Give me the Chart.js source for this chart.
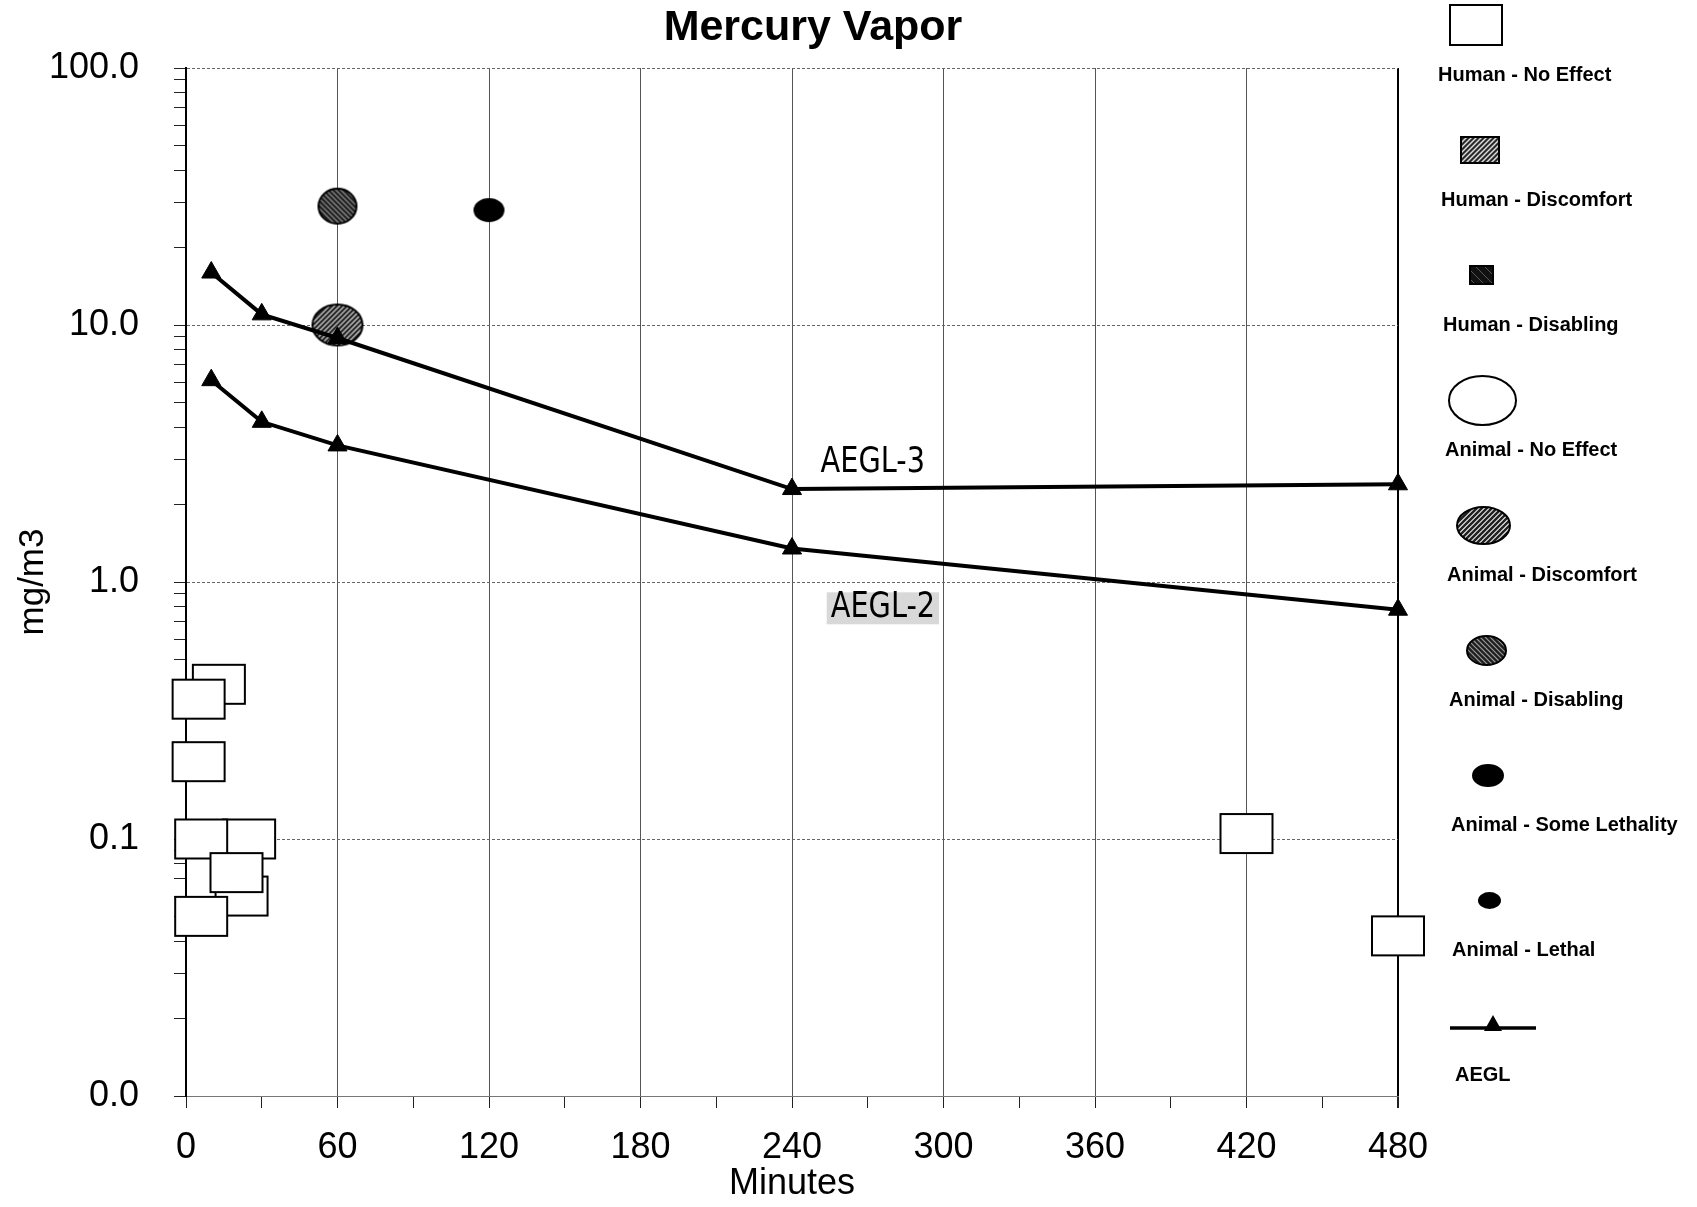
<!DOCTYPE html>
<html>
<head>
<meta charset="utf-8">
<title>Mercury Vapor</title>
<script src="https://cdn.jsdelivr.net/npm/chart.js@4.4.1/dist/chart.umd.min.js"></script>
<style>
  body { margin: 0; background: #fff; }
  #page { position: relative; width: 1697px; height: 1207px; font-family: "Liberation Sans", Arial, sans-serif; color: #000; }
  #box { position: absolute; left: 0; top: 0; width: 1697px; height: 1207px; }
  #title { position: absolute; left: 513px; top: 0; width: 600px; text-align: center; font-weight: bold; font-size: 43px; line-height: 50px; }
  .legSym { position: absolute; }
  .legText { position: absolute; font-weight: bold; font-size: 20px; line-height: 24px; white-space: nowrap; }
</style>
</head>
<body>
<div id="page">
  <div id="box"><canvas id="chart"></canvas></div>
  <div id="title">Mercury Vapor</div>
  <div id="legend"></div>
</div>
<script>
  // AEGL values (mg/m3) at the standard exposure times
  var aeglMinutes = [10, 30, 60, 240, 480];
  var aegl3 = [16, 11, 8.9, 2.3, 2.4];
  var aegl2 = [6.1, 4.2, 3.4, 1.35, 0.78];

  // Human - No Effect points (draw order kept as in the scan)
  var humanNoEffectMin = [13, 5, 5, 22, 25, 6, 20, 6, 420, 480];
  var humanNoEffectVal = [0.4, 0.35, 0.2, 0.06, 0.1, 0.1, 0.074, 0.05, 0.105, 0.042];

  // Animal points
  var animalDiscomfortMin = [60];
  var animalDiscomfortVal = [10];
  var animalDisablingMin = [60];
  var animalDisablingVal = [29];
  var animalSomeLethalMin = [120];
  var animalSomeLethalVal = [28];

  // Axis ticks
  var xTickValues = [0, 60, 120, 180, 240, 300, 360, 420, 480];
  var yDecades = [0.01, 0.1, 1, 10, 100];

  // Hand written notes on the lines
  var noteText = ['AEGL-3', 'AEGL-2'];
  var noteMin = [272, 276];
  var noteVal = [2.9, 0.79];

  // Legend entries
  var legendLabels = ['Human - No Effect', 'Human - Discomfort', 'Human - Disabling',
    'Animal - No Effect', 'Animal - Discomfort', 'Animal - Disabling',
    'Animal - Some Lethality', 'Animal - Lethal', 'AEGL'];

  // marker looks
  var styles = {
    humanNoEffect:    { shape: 'rect', fill: '#fff' },
    humanDiscomfort:  { shape: 'rect', fill: '#2a2a2a', stripe: '#ddd', dir: 1, sw: 1.4, gap: 5 },
    humanDisabling:   { shape: 'rect', fill: '#111', stripe: '#555', dir: -1, sw: 1, gap: 9 },
    animalNoEffect:   { shape: 'ellipse', fill: '#fff' },
    animalDiscomfort: { shape: 'ellipse', fill: '#fff', stripe: '#222', dir: 1, sw: 2.6, gap: 5 },
    animalDisabling:  { shape: 'ellipse', fill: '#1e1e1e', stripe: '#999', dir: -1, sw: 1.2, gap: 5 },
    someLethality:    { shape: 'ellipse', fill: '#000' },
    lethal:           { shape: 'ellipse', fill: '#000' }
  };

  function shapePath(g, st, w, h) {
    g.beginPath();
    if (st.shape === 'rect') g.rect(2, 2, w, h);
    else g.ellipse(2 + w / 2, 2 + h / 2, w / 2, h / 2, 0, 0, Math.PI * 2);
  }

  function makeMarker(st, w, h) {
    var c = document.createElement('canvas');
    c.width = w + 4;
    c.height = h + 4;
    var g = c.getContext('2d');
    shapePath(g, st, w, h);
    g.fillStyle = st.fill;
    g.fill();
    if (st.stripe) {
      g.save();
      g.clip();
      g.strokeStyle = st.stripe;
      g.lineWidth = st.sw;
      for (var s = -h - 4; s < w + h + 8; s += st.gap) {
        g.beginPath();
        if (st.dir > 0) { g.moveTo(s, h + 4); g.lineTo(s + h + 4, 0); }
        else { g.moveTo(s, 0); g.lineTo(s + h + 4, h + 4); }
        g.stroke();
      }
      g.restore();
    }
    shapePath(g, st, w, h);
    g.lineWidth = 2;
    g.strokeStyle = '#000';
    g.stroke();
    return c;
  }

  function makeAeglSymbol() {
    var c = document.createElement('canvas');
    c.width = 86;
    c.height = 24;
    var g = c.getContext('2d');
    g.strokeStyle = '#000';
    g.lineWidth = 3.5;
    g.beginPath();
    g.moveTo(0, 15);
    g.lineTo(86, 15);
    g.stroke();
    g.fillStyle = '#000';
    g.beginPath();
    g.moveTo(43, 2);
    g.lineTo(52, 18);
    g.lineTo(34, 18);
    g.closePath();
    g.fill();
    return c;
  }

  function toPoints(xs, ys) {
    return xs.map(function (x, i) { return { x: x, y: ys[i] }; });
  }

  // legend, symbol above each label
  var legendSyms = [
    makeMarker(styles.humanNoEffect, 52, 40),
    makeMarker(styles.humanDiscomfort, 38, 26),
    makeMarker(styles.humanDisabling, 23, 18),
    makeMarker(styles.animalNoEffect, 67, 49),
    makeMarker(styles.animalDiscomfort, 53, 37),
    makeMarker(styles.animalDisabling, 39, 29),
    makeMarker(styles.someLethality, 30, 21),
    makeMarker(styles.lethal, 21, 15),
    makeAeglSymbol()
  ];
  var symX = [1476, 1480, 1481, 1482, 1483, 1486, 1488, 1489, 1493];
  var textX = [1438, 1441, 1443, 1445, 1447, 1449, 1451, 1452, 1455];
  var legend = document.getElementById('legend');
  legendLabels.forEach(function (label, i) {
    var sym = legendSyms[i];
    sym.className = 'legSym';
    sym.style.left = (symX[i] - sym.width / 2) + 'px';
    sym.style.top = (25 + 125 * i - sym.height / 2) + 'px';
    legend.appendChild(sym);
    var t = document.createElement('div');
    t.className = 'legText';
    t.textContent = label;
    t.style.left = textX[i] + 'px';
    t.style.top = (62 + 125 * i) + 'px';
    legend.appendChild(t);
  });

  // writes the AEGL-3 / AEGL-2 notes next to the lines
  var notesPlugin = {
    id: 'aeglNotes',
    afterDatasetsDraw: function (chart) {
      var g = chart.ctx;
      var xs = chart.scales.x, ys = chart.scales.y;
      noteText.forEach(function (txt, i) {
        var px = xs.getPixelForValue(noteMin[i]);
        var py = ys.getPixelForValue(noteVal[i]);
        g.save();
        g.font = '32px "DejaVu Sans Condensed", "DejaVu Sans", sans-serif';
        var w = g.measureText(txt).width;
        if (i === 1) {
          g.fillStyle = '#d8d8d8';
          g.fillRect(px - w / 2 - 4, py - 16, w + 8, 32);
        }
        g.translate(px, py);
        g.scale(1, 1.1);
        g.fillStyle = '#000';
        g.textAlign = 'center';
        g.textBaseline = 'middle';
        g.fillText(txt, 0, 0);
        g.restore();
      });
    }
  };

  Chart.defaults.font.family = '"Liberation Sans", Arial, sans-serif';
  Chart.defaults.color = '#000';

  var ctx = document.getElementById('chart').getContext('2d');
  var chart = new Chart(ctx, {
    type: 'scatter',
    data: {
      datasets: [
        {
          label: 'AEGL-3',
          type: 'line',
          data: toPoints(aeglMinutes, aegl3),
          borderColor: '#000',
          backgroundColor: '#000',
          borderWidth: 4,
          pointStyle: 'triangle',
          pointRadius: 11,
          pointBorderWidth: 1,
          tension: 0,
          order: 0,
          clip: false
        },
        {
          label: 'AEGL-2',
          type: 'line',
          data: toPoints(aeglMinutes, aegl2),
          borderColor: '#000',
          backgroundColor: '#000',
          borderWidth: 4,
          pointStyle: 'triangle',
          pointRadius: 11,
          pointBorderWidth: 1,
          tension: 0,
          order: 0,
          clip: false
        },
        {
          label: 'Animal - Discomfort',
          data: toPoints(animalDiscomfortMin, animalDiscomfortVal),
          pointStyle: makeMarker(styles.animalDiscomfort, 50, 41),
          order: 1,
          clip: false
        },
        {
          label: 'Animal - Disabling',
          data: toPoints(animalDisablingMin, animalDisablingVal),
          pointStyle: makeMarker(styles.animalDisabling, 38, 35),
          order: 1,
          clip: false
        },
        {
          label: 'Animal - Some Lethality',
          data: toPoints(animalSomeLethalMin, animalSomeLethalVal),
          pointStyle: makeMarker(styles.someLethality, 29, 22),
          order: 1,
          clip: false
        },
        {
          label: 'Human - No Effect',
          data: toPoints(humanNoEffectMin, humanNoEffectVal),
          pointStyle: makeMarker(styles.humanNoEffect, 52, 39),
          order: 2,
          clip: false
        }
      ]
    },
    options: {
      responsive: true,
      maintainAspectRatio: false,
      animation: false,
      events: [],
      layout: { padding: { left: 0, top: 68, right: 299, bottom: 0 } },
      plugins: {
        legend: { display: false },
        tooltip: { enabled: false }
      },
      scales: {
        x: {
          type: 'linear',
          min: 0,
          max: 480,
          afterFit: function (scale) { scale.height = 111; },
          afterBuildTicks: function (scale) {
            var t = [];
            for (var v = 0; v <= 480; v += 30) t.push({ value: v });
            scale.ticks = t;
          },
          ticks: {
            autoSkip: false,
            maxRotation: 0,
            padding: 18,
            font: { size: 36 },
            callback: function (v) { return xTickValues.indexOf(v) >= 0 ? String(v) : ''; }
          },
          grid: {
            color: function (c) {
              if (!c.tick) return 'transparent';
              if (c.tick.value === 480) return '#000';
              return c.tick.value % 60 === 0 ? '#555' : 'transparent';
            },
            lineWidth: function (c) { return c.tick && c.tick.value === 480 ? 2 : 1; },
            tickColor: '#222',
            tickLength: 12
          },
          border: { color: '#777', width: 1 },
          title: {
            display: true,
            text: 'Minutes',
            font: { size: 36 },
            padding: { top: 0, bottom: 1 }
          }
        },
        y: {
          type: 'logarithmic',
          min: 0.01,
          max: 100,
          afterFit: function (scale) { scale.width = 186; },
          afterBuildTicks: function (scale) {
            var t = [];
            yDecades.forEach(function (d, i) {
              if (i === yDecades.length - 1) { t.push({ value: d }); return; }
              for (var k = 1; k <= 9; k++) t.push({ value: Math.round(d * k * 1000) / 1000 });
            });
            scale.ticks = t;
          },
          ticks: {
            autoSkip: false,
            padding: 35,
            font: { size: 36 },
            callback: function (v) { return yDecades.indexOf(v) >= 0 ? v.toFixed(1) : ''; }
          },
          grid: {
            color: function (c) {
              return c.tick && yDecades.indexOf(c.tick.value) >= 0 ? '#666' : 'transparent';
            },
            lineWidth: 1,
            tickColor: '#222',
            tickLength: 12
          },
          border: { color: '#000', width: 2, dash: [3, 2] },
          title: {
            display: true,
            text: 'mg/m3',
            font: { size: 35 },
            padding: { top: 12, bottom: 0 }
          }
        }
      }
    },
    plugins: [notesPlugin]
  });
</script>
</body>
</html>
